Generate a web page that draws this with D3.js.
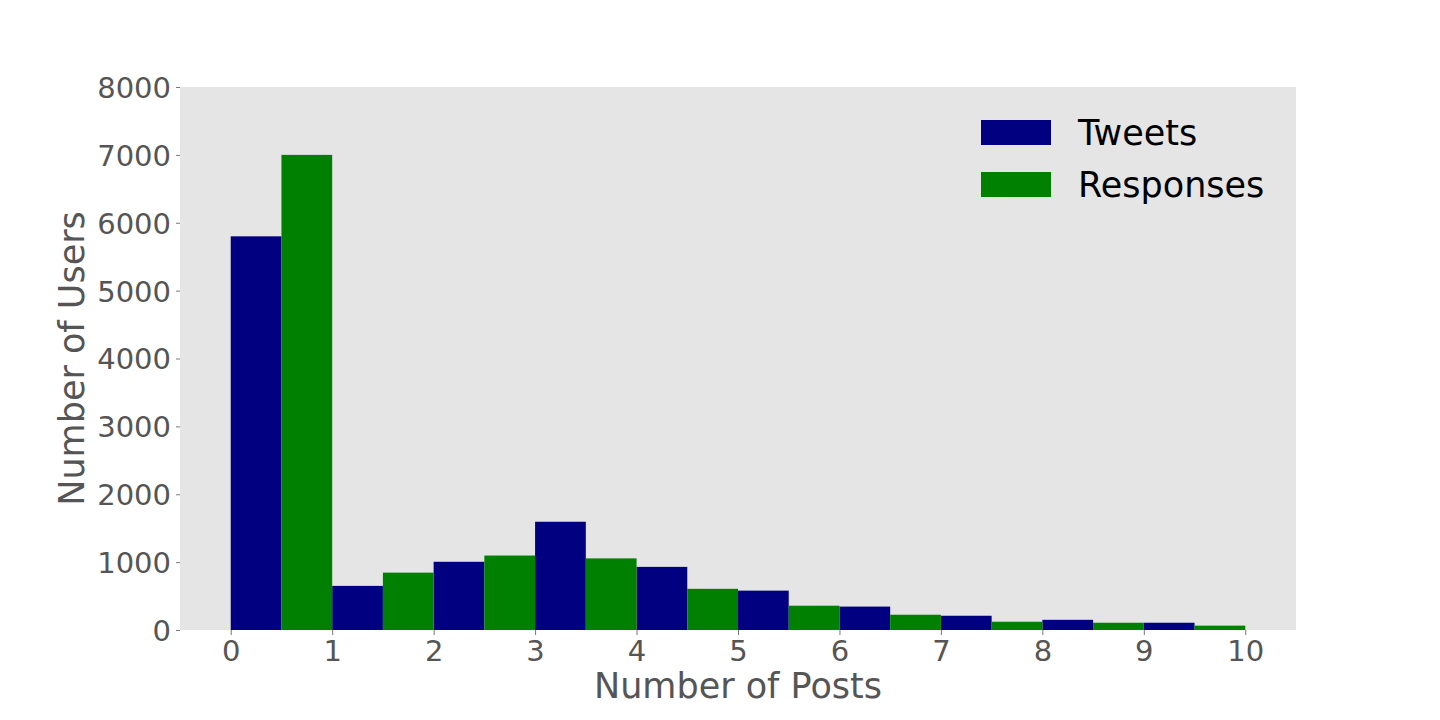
<!DOCTYPE html>
<html>
<head>
<meta charset="utf-8">
<script src="https://cdn.jsdelivr.net/npm/d3@7"></script>
<style>
  body { margin: 0; background: #fff; }
  text { font-family: 'DejaVu Sans', sans-serif; }
</style>
</head>
<body>
<svg id="chart"></svg>
<script>
const bins = [0, 1, 2, 3, 4, 5, 6, 7, 8, 9]
const tweets = [5800, 650, 1005, 1595, 930, 580, 345, 210, 150, 107]
const responses = [7000, 845, 1097, 1055, 607, 358, 225, 122, 107, 64]
const xTicks = [0, 1, 2, 3, 4, 5, 6, 7, 8, 9, 10]
const yTicks = [0, 1000, 2000, 3000, 4000, 5000, 6000, 7000, 8000]
const seriesNames = ['Tweets', 'Responses']
const colors = ['#000080', '#008000']

const width = 1440, height = 720
const margin = { top: 87, right: 144, bottom: 90, left: 180 }
const w = width - margin.left - margin.right
const h = height - margin.top - margin.bottom

const svg = d3.select('#chart')
  .attr('width', width)
  .attr('height', height)

const g = svg.append('g')
  .attr('transform', `translate(${margin.left}, ${margin.top})`)

const x = d3.scaleLinear().domain([-0.5, 10.5]).range([0, w])
const y = d3.scaleLinear().domain([0, 8000]).range([h, 0])

g.append('rect')
  .attr('width', w)
  .attr('height', h)
  .attr('fill', '#e5e5e5')

// bars: tweets fill left half of each bin, responses the right half
const series = [tweets, responses]
series.forEach((vals, s) => {
  g.selectAll(null)
    .data(bins)
    .enter()
    .append('rect')
    .attr('x', d => x(d + s * 0.5))
    .attr('width', x(0.5) - x(0))
    .attr('y', (d, i) => y(vals[i]))
    .attr('height', (d, i) => y(0) - y(vals[i]))
    .attr('fill', colors[s])
})

const xaxis = g.append('g')
  .attr('transform', `translate(0, ${h})`)
  .call(d3.axisBottom(x).tickValues(xTicks).tickFormat(d3.format('d')).tickSize(5).tickPadding(5))
const yaxis = g.append('g')
  .call(d3.axisLeft(y).tickValues(yTicks).tickFormat(d3.format('d')).tickSize(4).tickPadding(5))

;[xaxis, yaxis].forEach(a => {
  a.select('.domain').remove()
  a.selectAll('line').attr('stroke', '#555').attr('stroke-width', 0.8)
  a.selectAll('text').attr('fill', '#555').style('font-size', '29px')
})
yaxis.selectAll('text').attr('dy', '0.36em')

g.append('text')
  .attr('x', x(5))
  .attr('y', h + 68)
  .attr('text-anchor', 'middle')
  .attr('fill', '#555')
  .style('font-size', '35px')
  .text('Number of Posts')

g.append('text')
  .attr('transform', `translate(${-96}, ${h / 2}) rotate(-90)`)
  .attr('text-anchor', 'middle')
  .attr('fill', '#555')
  .style('font-size', '35px')
  .text('Number of Users')

const legend = g.append('g')
  .attr('transform', `translate(${801}, ${33})`)
seriesNames.forEach((name, i) => {
  const row = legend.append('g').attr('transform', `translate(0, ${i * 52})`)
  row.append('rect')
    .attr('width', 70)
    .attr('height', 25)
    .attr('fill', colors[i])
  row.append('text')
    .attr('x', 97)
    .attr('y', 25)
    .attr('fill', '#000')
    .style('font-size', '35px')
    .text(name)
})
</script>
</body>
</html>
